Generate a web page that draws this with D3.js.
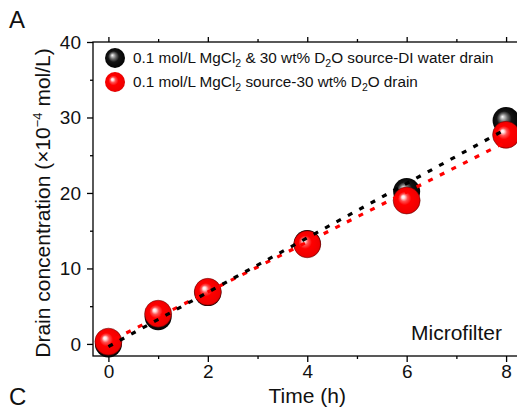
<!DOCTYPE html>
<html>
<head>
<meta charset="utf-8">
<script src="https://cdn.jsdelivr.net/npm/d3@7"></script>
<style>
  body { margin: 0; background: #fff; }
  svg { display: block; }
  text { font-family: "Liberation Sans", Arial, sans-serif; fill: #111; }
</style>
</head>
<body>
<svg id="chart" width="517" height="415"></svg>
<script>
// data
const times = [0, 1, 2, 4, 6, 8];
const blackConc = [0.0, 3.6, 6.8, 13.3, 20.2, 29.6];
const redConc = [0.3, 4.0, 6.9, 13.2, 19.0, 27.7];
const xMajorTicks = [0, 2, 4, 6, 8];
const xMinorTicks = [1, 3, 5, 7];
const yMajorTicks = [0, 10, 20, 30, 40];
const yMinorTicks = [5, 15, 25, 35];
const seriesNames = [
  ["0.1 mol/L MgCl", "2", " & 30 wt% D", "2", "O source-DI water drain"],
  ["0.1 mol/L MgCl", "2", " source-30 wt% D", "2", "O drain"]
];

const svg = d3.select("#chart");

const plot = { left: 93, top: 42, right: 521, bottom: 356 };

const x = d3.scaleLinear().domain([-0.31, 8.3]).range([plot.left, plot.right]);
const y = d3.scaleLinear().domain([-1.6, 40]).range([plot.bottom, plot.top]);

// sphere gradients
const defs = svg.append("defs");
function sphereGrad(id, stops) {
  const g = defs.append("radialGradient").attr("id", id)
    .attr("cx", "0.5").attr("cy", "0.5").attr("r", "0.55")
    .attr("fx", "0.36").attr("fy", "0.36");
  stops.forEach(s => g.append("stop").attr("offset", s[0]).attr("stop-color", s[1]));
}
sphereGrad("gRed", [["0%", "#ffffff"], ["10%", "#ffe0e0"], ["25%", "#ff5050"], ["45%", "#ff0000"], ["85%", "#f00000"], ["100%", "#b00000"]]);
sphereGrad("gBlack", [["0%", "#ffffff"], ["10%", "#c8c8c8"], ["28%", "#6a6a6a"], ["50%", "#151515"], ["100%", "#000000"]]);

// frame
svg.append("rect")
  .attr("x", plot.left).attr("y", plot.top)
  .attr("width", plot.right - plot.left).attr("height", plot.bottom - plot.top)
  .attr("fill", "none").attr("stroke", "#000").attr("stroke-width", 1.3);

function styleAxis(g) {
  g.select(".domain").remove();
  g.selectAll("line").attr("stroke", "#000").attr("stroke-width", 1.3);
  g.selectAll("text").style("font-size", "19px").style("font-family", "'Liberation Sans', Arial, sans-serif").attr("fill", "#111");
}

// bottom axis
svg.append("g").attr("transform", `translate(0,${plot.bottom})`)
  .call(d3.axisBottom(x).tickValues(xMajorTicks).tickSize(6).tickPadding(3).tickFormat(d3.format("d")))
  .call(styleAxis);
svg.append("g").attr("transform", `translate(0,${plot.bottom})`)
  .call(d3.axisBottom(x).tickValues(xMinorTicks).tickSize(3).tickFormat(""))
  .call(styleAxis);

// top axis (ticks only)
svg.append("g").attr("transform", `translate(0,${plot.top})`)
  .call(d3.axisTop(x).tickValues(xMajorTicks).tickSize(5).tickFormat(""))
  .call(styleAxis);
svg.append("g").attr("transform", `translate(0,${plot.top})`)
  .call(d3.axisTop(x).tickValues(xMinorTicks).tickSize(3).tickFormat(""))
  .call(styleAxis);

// left axis
svg.append("g").attr("transform", `translate(${plot.left},0)`)
  .call(d3.axisLeft(y).tickValues(yMajorTicks).tickSize(6).tickPadding(6).tickFormat(d3.format("d")))
  .call(styleAxis);
svg.append("g").attr("transform", `translate(${plot.left},0)`)
  .call(d3.axisLeft(y).tickValues(yMinorTicks).tickSize(3).tickFormat(""))
  .call(styleAxis);

// spheres
const blackPts = times.map((t, i) => ({ t: t, v: blackConc[i] }));
const redPts = times.map((t, i) => ({ t: t, v: redConc[i] }));
const R = 13.5;

svg.append("g").selectAll("circle").data(blackPts).join("circle")
  .attr("cx", d => x(d.t)).attr("cy", d => y(d.v)).attr("r", R)
  .attr("fill", "url(#gBlack)");
svg.append("g").selectAll("circle").data(redPts).join("circle")
  .attr("cx", d => x(d.t)).attr("cy", d => y(d.v)).attr("r", R)
  .attr("fill", "url(#gRed)").attr("stroke", "#5a0000").attr("stroke-width", 0.5);

// linear fits computed from the data
function fit(pts) {
  const mt = d3.mean(pts, d => d.t), mv = d3.mean(pts, d => d.v);
  const sxy = d3.sum(pts, d => (d.t - mt) * (d.v - mv));
  const sxx = d3.sum(pts, d => (d.t - mt) * (d.t - mt));
  const b = sxy / sxx;
  return [0, 8].map(t => ({ t: t, v: mv + b * (t - mt) }));
}
const line = d3.line().x(d => x(d.t)).y(d => y(d.v));

svg.append("path").attr("d", line(fit(redPts)))
  .attr("fill", "none").attr("stroke", "#ff0000").attr("stroke-width", 3.2)
  .attr("stroke-dasharray", "5 8").attr("stroke-dashoffset", 6);
svg.append("path").attr("d", line(fit(blackPts)))
  .attr("fill", "none").attr("stroke", "#000").attr("stroke-width", 3.2)
  .attr("stroke-dasharray", "5 8");

// legend
const legend = svg.append("g");
const legendFills = ["url(#gBlack)", "url(#gRed)"];
seriesNames.forEach((parts, i) => {
  const cy = 58 + i * 24;
  legend.append("circle").attr("cx", 115).attr("cy", cy).attr("r", 10)
    .attr("fill", legendFills[i]);
  const txt = legend.append("text").attr("x", 133).attr("y", cy + 5)
    .style("font-size", "15.3px");
  parts.forEach((p, j) => {
    if (j % 2 === 1) {
      txt.append("tspan").attr("dy", 4).style("font-size", "10.5px").text(p);
    } else {
      txt.append("tspan").attr("dy", j === 0 ? 0 : -4).text(p);
    }
  });
});

// annotation
svg.append("text").attr("x", 502).attr("y", 340).attr("text-anchor", "end")
  .style("font-size", "21px").text("Microfilter");

// axis titles
svg.append("text").attr("x", (x(0) + x(8)) / 2).attr("y", 403).attr("text-anchor", "middle")
  .style("font-size", "21px").text("Time (h)");

const yTitle = svg.append("text")
  .attr("transform", "translate(50,203) rotate(-90)")
  .attr("text-anchor", "middle")
  .style("font-size", "21px");
yTitle.append("tspan").text("Drain concentration (\u00d710");
yTitle.append("tspan").attr("dy", -8).style("font-size", "13px").text("\u22124");
yTitle.append("tspan").attr("dy", 8).text(" mol/L)");

// panel letters
svg.append("text").attr("x", 9).attr("y", 28).style("font-size", "24px").text("A");
svg.append("text").attr("x", 9).attr("y", 405).style("font-size", "24px").text("C");
</script>
</body>
</html>
